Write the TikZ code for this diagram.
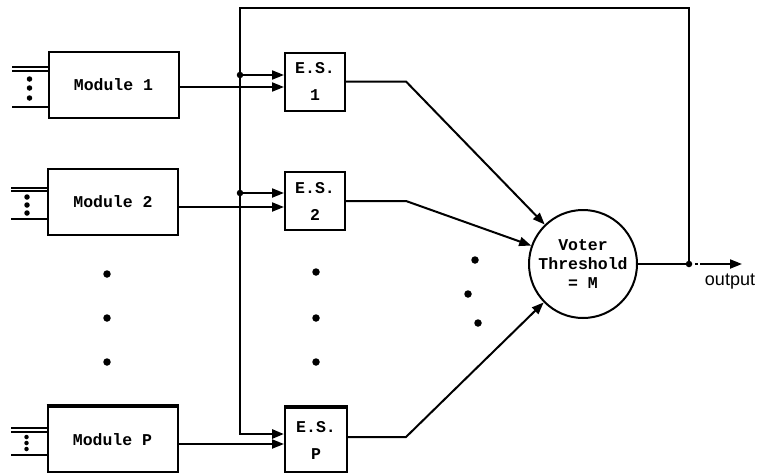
\documentclass[tikz,border=0pt]{standalone}
\usepackage{fontspec}
\setmonofont{Liberation Mono}
\setsansfont{Liberation Sans}
\usetikzlibrary{arrows.meta,calc}
\newcommand\lblfont{\ttfamily\bfseries\fontsize{16.5}{19}\selectfont}
\begin{document}
\begin{tikzpicture}[x=1pt,y=-1pt,
  lw/.style={line width=2pt},
  modbox/.style={draw,lw,minimum width=130pt,minimum height=66pt,inner sep=0pt,font=\lblfont},
  esbox/.style={draw,lw,minimum width=60pt,minimum height=58pt,inner sep=0pt,font=\lblfont,align=center},
  arr/.style={-{Triangle[length=12pt,width=9pt]}},
  bus/.style={line width=2.8pt},
  dotm/.style={circle,fill,inner sep=0pt,minimum size=7.5pt},
  jdot/.style={circle,fill,inner sep=0pt,minimum size=6.5pt},
  idot/.style={circle,fill,inner sep=0pt,minimum size=5.5pt}]
\useasboundingbox (0,0) rectangle (759,474);
% modules
\node[modbox] (m1) at (113.5,84.5) {Module 1};
\node[modbox] (m2) at (113,201.5) {Module 2};
\node[modbox,minimum height=65pt] (mp) at (112.5,439.5) {Module P};
\draw[line width=3.2pt] (mp.north west) -- (mp.north east);
% E.S. boxes
\node[esbox] (es1) at (315,81.5) {E.S.\\[8pt]1};
\node[esbox] (es2) at (315,201) {E.S.\\[8pt]2};
\node[esbox,minimum width=62pt,minimum height=64pt] (esp) at (316,440) {E.S.\\[8pt]P};
\draw[line width=3.2pt] (esp.north west) -- (esp.north east);
% voter
\node[draw,lw,circle,minimum size=108pt,inner sep=0pt,font=\lblfont,align=center] (v) at (583,264) {Voter\\Threshold\\= M};
% inputs
\draw[lw] ($(m1.west)+(0,-17.5)$) -- ++(-36,0);
\draw[lw] ($(m1.west)+(0,-13.5)$) -- ++(-36,0);
\draw[lw] ($(m1.west)+(0,22.5)$) -- ++(-36,0);
\node[idot] (i1a) at ($(m1.west)+(-18,-5.5)$) {};
\node[idot] (i1b) at ($(m1.west)+(-18,3.5)$) {};
\node[idot] (i1c) at ($(m1.west)+(-18,13.5)$) {};
\draw[lw] ($(m2.west)+(0,-13.5)$) -- ++(-36,0);
\draw[lw] ($(m2.west)+(0,-10.5)$) -- ++(-36,0);
\draw[lw] ($(m2.west)+(0,17.5)$) -- ++(-36,0);
\node[idot] (i2a) at ($(m2.west)+(-20,-4.5)$) {};
\node[idot] (i2b) at ($(m2.west)+(-20,3.5)$) {};
\node[idot] (i2c) at ($(m2.west)+(-20,11.5)$) {};
\draw[lw] ($(mp.west)+(0,-11.5)$) -- ++(-36,0);
\draw[lw] ($(mp.west)+(0,-7.5)$) -- ++(-36,0);
\draw[lw] ($(mp.west)+(0,15.5)$) -- ++(-36,0);
\node[idot,minimum size=4.5pt] (ipa) at ($(mp.west)+(-20,-2.5)$) {};
\node[idot,minimum size=4.5pt] (ipb) at ($(mp.west)+(-20,3.5)$) {};
\node[idot,minimum size=4.5pt] (ipc) at ($(mp.west)+(-20,9.5)$) {};
% feedback bus
\coordinate (j) at (689,264);
\coordinate (tl) at (240,8);
\coordinate (bl) at (240,434);
\draw[bus,arr] (j) |- (tl) -- (bl) -- (bl -| esp.west);
\coordinate (d1) at (240,75);
\coordinate (d2) at (240,193);
\draw[lw,arr] (d1) -- (d1 -| es1.west);
\draw[lw,arr] (d2) -- (d2 -| es2.west);
\node[jdot] (jd1) at (d1) {};
\node[jdot] (jd2) at (d2) {};
% module outputs
\coordinate (m1o) at ($(m1.east)+(0,2.5)$);
\coordinate (m2o) at ($(m2.east)+(0,5.5)$);
\coordinate (mpo) at ($(mp.east)+(0,4.5)$);
\draw[lw,arr] (m1o) -- (m1o -| es1.west);
\draw[lw,arr] (m2o) -- (m2o -| es2.west);
\draw[lw,arr] (mpo) -- (mpo -| esp.west);
% E.S. outputs to voter
\coordinate (k1) at ($(es1.east)+(60,0)$);
\coordinate (k2) at ($(es2.east)+(60,0)$);
\coordinate (kp) at ($(esp.east)+(58,-3)$);
\draw[lw,arr] (es1.east) -- (k1) -- (v);
\draw[lw,arr] (es2.east) -- (k2) -- (v);
\draw[lw,arr] ($(esp.east)+(0,-3)$) -- (kp) -- (v);
% output
\draw[lw] (v.east) -- (j);
\node[jdot] (jo) at (j) {};
\coordinate (o) at (742,264);
\draw[lw,arr,dash pattern=on 0pt off 6pt on 3pt off 2pt on 80pt] (j) -- (o);
\node[font=\sffamily\fontsize{18}{20}\selectfont] (ol) at (730,282) {output};
% ellipsis dots
\node[dotm] (a1) at (107,274) {};
\node[dotm] (a2) at (107,318) {};
\node[dotm] (a3) at (107,362) {};
\node[dotm] (b1) at (316,272) {};
\node[dotm] (b2) at (316,318) {};
\node[dotm] (b3) at (316,362) {};
\node[dotm] (c1) at (475,260) {};
\node[dotm] (c2) at (468,294) {};
\node[dotm] (c3) at (478,323) {};
\end{tikzpicture}
\end{document}
